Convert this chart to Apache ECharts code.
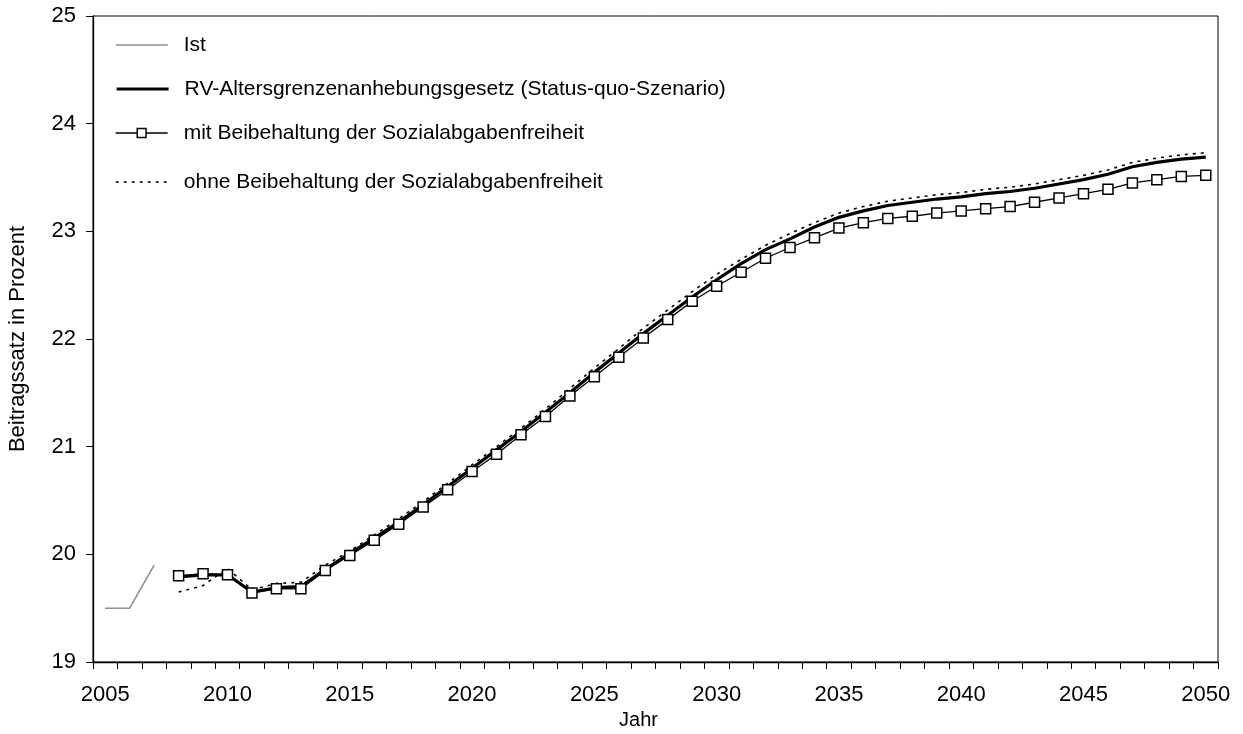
<!DOCTYPE html>
<html>
<head>
<meta charset="utf-8">
<script src="https://cdn.jsdelivr.net/npm/echarts@6/dist/echarts.min.js"></script>
<style>
  html, body { margin: 0; padding: 0; background: #fff; }
  #chart { width: 1243px; height: 734px; }
</style>
</head>
<body>
<div id="chart"></div>
<script>
// Jahre (Kategorien der x-Achse)
const years = [
  '2005','2006','2007','2008','2009','2010','2011','2012','2013','2014',
  '2015','2016','2017','2018','2019','2020','2021','2022','2023','2024',
  '2025','2026','2027','2028','2029','2030','2031','2032','2033','2034',
  '2035','2036','2037','2038','2039','2040','2041','2042','2043','2044',
  '2045','2046','2047','2048','2049','2050'
];

// Ist-Werte 2005-2007
const istValues = [19.5, 19.5, 19.9];

// Projektionen 2008-2050
const rvValues = [
  19.79, 19.81, 19.81, 19.65, 19.69, 19.70, 19.86,
  20.01, 20.15, 20.30, 20.46, 20.63, 20.80,
  20.97, 21.14, 21.32, 21.50, 21.69,
  21.87, 22.05, 22.22, 22.39, 22.55,
  22.70, 22.83, 22.93, 23.04, 23.13,
  23.19, 23.24, 23.27, 23.30, 23.32,
  23.35, 23.37, 23.40, 23.44, 23.48,
  23.53, 23.60, 23.64, 23.67, 23.69
];
const mitValues = [
  19.80, 19.82, 19.81, 19.64, 19.68, 19.68, 19.85,
  19.99, 20.13, 20.28, 20.44, 20.60, 20.77,
  20.93, 21.11, 21.28, 21.47, 21.65,
  21.83, 22.01, 22.18, 22.35, 22.49,
  22.62, 22.75, 22.85, 22.94, 23.03,
  23.08, 23.12, 23.14, 23.17, 23.19,
  23.21, 23.23, 23.27, 23.31, 23.35,
  23.39, 23.45, 23.48, 23.51, 23.52
];
const ohneValues = [
  19.65, 19.71, 19.87, 19.67, 19.73, 19.74, 19.90,
  20.03, 20.18, 20.33, 20.49, 20.66, 20.83,
  21.00, 21.17, 21.35, 21.54, 21.73,
  21.91, 22.10, 22.27, 22.44, 22.60,
  22.74, 22.87, 22.98, 23.08, 23.17,
  23.23, 23.28, 23.31, 23.34, 23.36,
  23.39, 23.41, 23.44, 23.48, 23.52,
  23.57, 23.64, 23.68, 23.71, 23.73
];

const seriesNames = [
  'Ist',
  'RV-Altersgrenzenanhebungsgesetz (Status-quo-Szenario)',
  'mit Beibehaltung der Sozialabgabenfreiheit',
  'ohne Beibehaltung der Sozialabgabenfreiheit'
];

const FONT = '"Liberation Sans", Arial, sans-serif';

// Linienstile je Reihe (für Reihe und Legende)
const lineStyles = [
  { color: '#8c8c8c', width: 1.5, type: 'solid' },
  { color: '#000', width: 3.2, type: 'solid' },
  { color: '#000', width: 1.3, type: 'solid' },
  { color: '#000', width: 1.6, type: [3, 5] }
];

// Ist-Reihe beginnt 2005, Projektionen beginnen 2008
const pad = n => new Array(n).fill(null);
const istData = istValues.concat(pad(years.length - istValues.length));
const projOffset = years.indexOf('2008');
const rvData = pad(projOffset).concat(rvValues);
const mitData = pad(projOffset).concat(mitValues);
const ohneData = pad(projOffset).concat(ohneValues);

// one legend block per entry; only the series with markers shows a symbol
const legendTops = [34, 78, 122, 171];
const withMarker = [false, false, true, false];
const legends = seriesNames.map((name, i) => ({
  data: [name],
  left: 115,
  top: legendTops[i],
  padding: 0,
  itemWidth: 52,
  itemHeight: 11,
  selectedMode: false,
  lineStyle: Object.assign({}, lineStyles[i]),
  itemStyle: withMarker[i]
    ? { color: '#fff', borderColor: '#000', borderWidth: 1.5 }
    : { opacity: 0, borderWidth: 0 },
  textStyle: {
    fontFamily: FONT, fontSize: 21, color: '#000',
    lineHeight: 22, padding: [0, 0, 0, 11]
  }
}));

const chart = echarts.init(document.getElementById('chart'), null, { renderer: 'canvas' });

chart.setOption({
  animation: false,
  backgroundColor: '#fff',
  textStyle: { fontFamily: FONT },
  legend: legends,
  grid: {
    left: 93, right: 25, top: 16, bottom: 72,
    outerBoundsMode: 'none',
    containLabel: false,
    show: true, borderColor: '#000', borderWidth: 1,
    backgroundColor: 'transparent'
  },
  xAxis: {
    type: 'category',
    data: years,
    boundaryGap: true,
    name: 'Jahr',
    nameLocation: 'middle',
    nameGap: 45,
    nameTextStyle: { fontFamily: FONT, fontSize: 20, color: '#000', padding: [0, 34, 0, 0] },
    axisLine: { lineStyle: { color: '#000', width: 1.3 } },
    axisTick: { show: true, interval: 0, length: 7, lineStyle: { color: '#000', width: 1 } },
    axisLabel: { interval: 4, margin: 22, fontFamily: FONT, fontSize: 22, color: '#000' },
    splitLine: { show: false }
  },
  yAxis: {
    type: 'value',
    min: 19, max: 25, interval: 1,
    name: 'Beitragssatz in Prozent',
    nameLocation: 'middle',
    nameRotate: 90,
    nameGap: 64,
    nameTextStyle: { fontFamily: FONT, fontSize: 22, color: '#000' },
    axisLine: { show: true, lineStyle: { color: '#000', width: 1.3 } },
    axisTick: { show: true, length: 7, lineStyle: { color: '#000', width: 1 } },
    axisLabel: { margin: 17, fontFamily: FONT, fontSize: 22, color: '#000' },
    splitLine: { show: false }
  },
  series: [
    {
      name: seriesNames[0], type: 'line', data: istData,
      symbol: 'none', connectNulls: false,
      lineStyle: lineStyles[0],
      itemStyle: { color: '#8c8c8c' }
    },
    {
      name: seriesNames[3], type: 'line', data: ohneData,
      symbol: 'none',
      lineStyle: lineStyles[3],
      itemStyle: { color: '#000' }
    },
    {
      name: seriesNames[2], type: 'line', data: mitData,
      symbol: 'rect', symbolSize: 10,
      lineStyle: lineStyles[2],
      itemStyle: { color: '#fff', borderColor: '#000', borderWidth: 1.5 }
    },
    {
      name: seriesNames[1], type: 'line', data: rvData,
      symbol: 'none',
      lineStyle: lineStyles[1],
      itemStyle: { color: '#000' }
    }
  ]
});
</script>
</body>
</html>
